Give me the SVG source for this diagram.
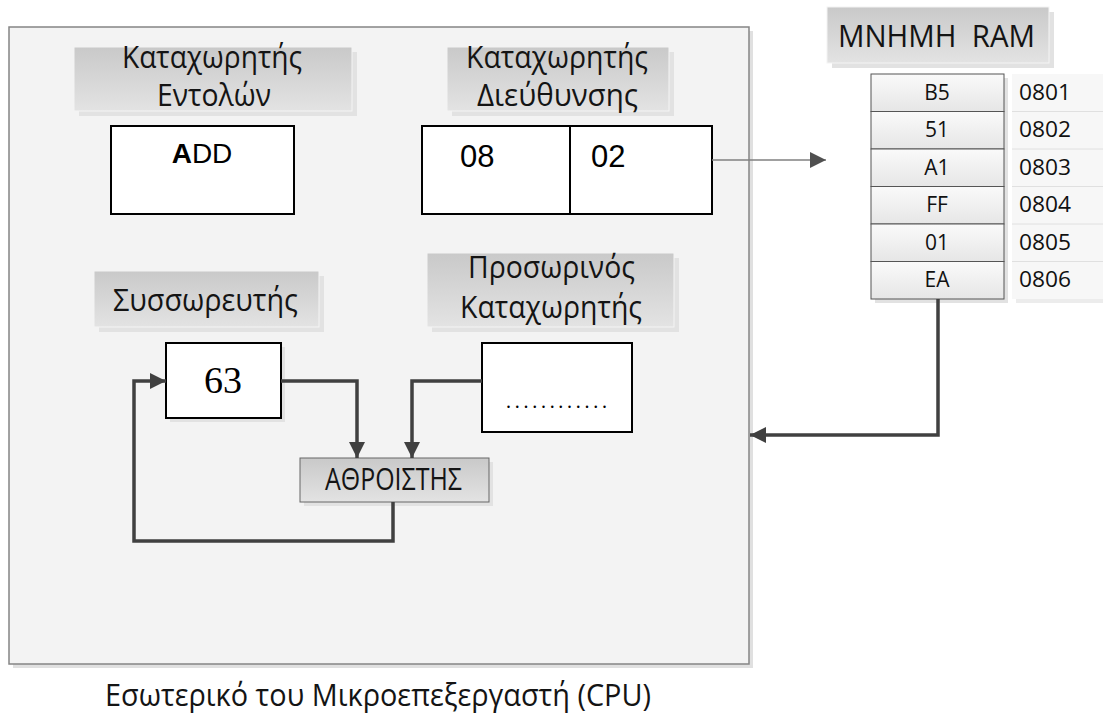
<svg xmlns="http://www.w3.org/2000/svg" width="1103" height="718" viewBox="0 0 1103 718">
<style>
.lbl{font-family:"Open Sans","Noto Sans",sans-serif;font-size:31px;fill:#141414}
.cell{font-family:"Open Sans","Noto Sans",sans-serif;font-size:21px;fill:#111;text-anchor:middle}
.addr{font-family:"Open Sans","Noto Sans",sans-serif;font-size:21px;fill:#111}
.reg{fill:#fff;stroke:#000;stroke-width:2}
.val{font-family:"Liberation Sans",Arial,sans-serif;fill:#000}
.conn{fill:none;stroke:#404040;stroke-width:3.5}
.shadow{fill:#e2e2e2}
</style>
<defs>
<linearGradient id="gLbl" x1="0" y1="0" x2="0" y2="1">
<stop offset="0" stop-color="#c9c9c9"/>
<stop offset="1" stop-color="#e3e3e3"/>
</linearGradient>
<linearGradient id="gCell" x1="0" y1="0" x2="0" y2="1">
<stop offset="0" stop-color="#fafafa"/>
<stop offset="1" stop-color="#e6e6e6"/>
</linearGradient>
<marker id="ah" viewBox="0 0 10 10" refX="10" refY="5" markerWidth="16" markerHeight="18" markerUnits="userSpaceOnUse" orient="auto">
<path d="M0,0 L10,5 L0,10 Z" fill="#404040"/>
</marker>
<marker id="ahThin" viewBox="0 0 10 10" refX="10" refY="5" markerWidth="20" markerHeight="16" markerUnits="userSpaceOnUse" orient="auto">
<path d="M0,0 L10,5 L0,10 Z" fill="#505050"/>
</marker>
</defs>
<rect width="1103" height="718" fill="#fff"/>

<g id="cpu">
<rect x="13" y="31" width="740" height="637" fill="#e0e0e0"/>
<rect x="9" y="27" width="740" height="637" fill="#f3f3f3" stroke="#858585" stroke-width="1.5"/>
</g>

<g id="lbl-instr">
<rect class="shadow" x="79" y="52" width="278" height="64"/>
<rect x="74" y="47" width="278" height="64" fill="url(#gLbl)" stroke="#f4f4f4" stroke-width="1"/>
<text class="lbl" x="122" y="68" textLength="180" lengthAdjust="spacingAndGlyphs">Καταχωρητής</text>
<text class="lbl" x="157" y="106" textLength="114" lengthAdjust="spacingAndGlyphs">Εντολών</text>
</g>

<g id="lbl-addr">
<rect class="shadow" x="452" y="52" width="222" height="64"/>
<rect x="447" y="47" width="222" height="64" fill="url(#gLbl)" stroke="#f4f4f4" stroke-width="1"/>
<text class="lbl" x="466" y="68" textLength="182" lengthAdjust="spacingAndGlyphs">Καταχωρητής</text>
<text class="lbl" x="477" y="106" textLength="161" lengthAdjust="spacingAndGlyphs">Διεύθυνσης</text>
</g>

<g id="reg-instr">
<rect class="reg" x="111" y="126" width="183" height="88"/>
<text class="val" x="202" y="163" font-size="28" text-anchor="middle"><tspan font-weight="bold">A</tspan>DD</text>
</g>

<g id="reg-addr">
<rect class="reg" x="422" y="126" width="290" height="88"/>
<line x1="570" y1="126" x2="570" y2="214" stroke="#000" stroke-width="2"/>
<text class="val" x="460" y="167" font-size="31">08</text>
<text class="val" x="591" y="167" font-size="31">02</text>
</g>

<g id="ram-title">
<rect class="shadow" x="832" y="12" width="222" height="56"/>
<rect x="827" y="7" width="222" height="56" fill="url(#gLbl)" stroke="#f4f4f4" stroke-width="1"/>
<text class="lbl" x="838" y="47" textLength="197" lengthAdjust="spacingAndGlyphs" xml:space="preserve">MNHMH  RAM</text>
</g>

<g id="ram">
<rect class="shadow" x="875" y="78" width="133" height="225"/>
<rect x="1016" y="78" width="87" height="225" fill="#ececec"/>
<rect x="1012" y="74" width="91" height="225" fill="#f7f7f7"/>
<g stroke="#e0e0e0" stroke-width="1">
<line x1="1012" y1="111.5" x2="1103" y2="111.5"/>
<line x1="1012" y1="149" x2="1103" y2="149"/>
<line x1="1012" y1="186.5" x2="1103" y2="186.5"/>
<line x1="1012" y1="224" x2="1103" y2="224"/>
<line x1="1012" y1="261.5" x2="1103" y2="261.5"/>
</g>
<g stroke="#555" stroke-width="1">
<rect x="871" y="74" width="133" height="37.5" fill="url(#gCell)"/>
<rect x="871" y="111.5" width="133" height="37.5" fill="url(#gCell)"/>
<rect x="871" y="149" width="133" height="37.5" fill="url(#gCell)"/>
<rect x="871" y="186.5" width="133" height="37.5" fill="url(#gCell)"/>
<rect x="871" y="224" width="133" height="37.5" fill="url(#gCell)"/>
<rect x="871" y="261.5" width="133" height="37.5" fill="url(#gCell)"/>
</g>
<text class="cell" x="937" y="100">B5</text>
<text class="cell" x="937" y="137">51</text>
<text class="cell" x="937" y="175">A1</text>
<text class="cell" x="937" y="212">FF</text>
<text class="cell" x="937" y="250">01</text>
<text class="cell" x="937" y="287">EA</text>
<text class="addr" x="1019" y="100" textLength="52" lengthAdjust="spacingAndGlyphs">0801</text>
<text class="addr" x="1019" y="137" textLength="52" lengthAdjust="spacingAndGlyphs">0802</text>
<text class="addr" x="1019" y="175" textLength="52" lengthAdjust="spacingAndGlyphs">0803</text>
<text class="addr" x="1019" y="212" textLength="52" lengthAdjust="spacingAndGlyphs">0804</text>
<text class="addr" x="1019" y="250" textLength="52" lengthAdjust="spacingAndGlyphs">0805</text>
<text class="addr" x="1019" y="287" textLength="52" lengthAdjust="spacingAndGlyphs">0806</text>
</g>

<g id="lbl-acc">
<rect class="shadow" x="99" y="276" width="225" height="56"/>
<rect x="94" y="271" width="225" height="56" fill="url(#gLbl)" stroke="#f4f4f4" stroke-width="1"/>
<text class="lbl" x="113" y="311" textLength="185" lengthAdjust="spacingAndGlyphs">Συσσωρευτής</text>
</g>

<g id="reg-acc">
<rect class="shadow" x="170" y="347" width="115" height="75"/>
<rect class="reg" x="166" y="343" width="115" height="75"/>
<text x="223" y="393" font-family="Liberation Serif,serif" font-size="38" text-anchor="middle" fill="#000">63</text>
</g>

<g id="lbl-temp">
<rect class="shadow" x="432" y="258" width="247" height="74"/>
<rect x="427" y="253" width="247" height="74" fill="url(#gLbl)" stroke="#f4f4f4" stroke-width="1"/>
<text class="lbl" x="468" y="278" textLength="167" lengthAdjust="spacingAndGlyphs">Προσωρινός</text>
<text class="lbl" x="460" y="318" textLength="182" lengthAdjust="spacingAndGlyphs">Καταχωρητής</text>
</g>

<g id="reg-temp">
<rect class="reg" x="482" y="343" width="150" height="89"/>
<text x="506" y="408" font-family="Liberation Serif,serif" font-size="20" fill="#000" textLength="101" lengthAdjust="spacing">............</text>
</g>

<g id="adder">
<rect class="shadow" x="304" y="462" width="189" height="44"/>
<rect x="300" y="458" width="189" height="44" fill="url(#gLbl)" stroke="#666" stroke-width="1"/>
<text class="lbl" x="325" y="490" font-size="25" textLength="137" lengthAdjust="spacingAndGlyphs">ΑΘΡΟΙΣΤΗΣ</text>
</g>

<g id="connectors">
<path d="M712,160 H826" fill="none" stroke="#808080" stroke-width="1.5" marker-end="url(#ahThin)"/>
<path class="conn" d="M938,299 V435 H750" marker-end="url(#ah)"/>
<path class="conn" d="M281,381 H357 V458" marker-end="url(#ah)"/>
<path class="conn" d="M482,381 H412 V458" marker-end="url(#ah)"/>
<path class="conn" d="M393,502 V541 H134 V381 H166" marker-end="url(#ah)"/>
</g>

<g id="caption">
<text class="lbl" x="105" y="706" font-size="28" textLength="546" lengthAdjust="spacingAndGlyphs">Εσωτερικό του Μικροεπεξεργαστή (CPU)</text>
</g>
</svg>
